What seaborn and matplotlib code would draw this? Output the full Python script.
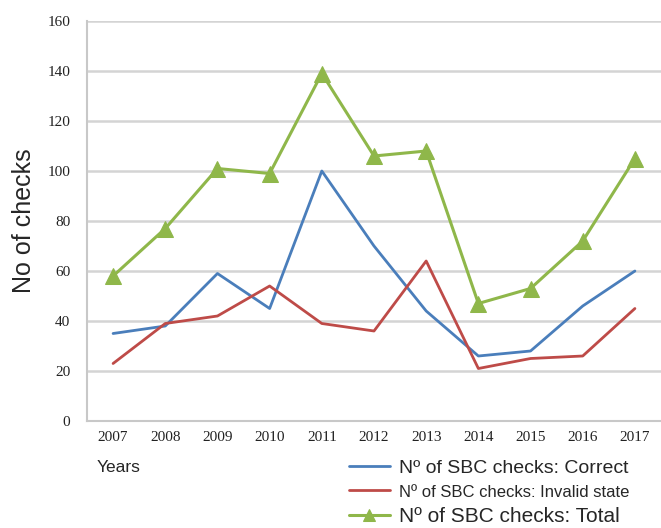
import matplotlib
matplotlib.use("Agg")
import matplotlib.pyplot as plt
import seaborn as sns
import pandas as pd

years = [2007, 2008, 2009, 2010, 2011, 2012, 2013, 2014, 2015, 2016, 2017]
correct = [35, 38, 59, 45, 100, 70, 44, 26, 28, 46, 60]
invalid = [23, 39, 42, 54, 39, 36, 64, 21, 25, 26, 45]
total = [58, 77, 101, 99, 139, 106, 108, 47, 53, 72, 105]
labels = ["Nº of SBC checks: Correct", "Nº of SBC checks: Invalid state", "Nº of SBC checks: Total"]
yticks = [0, 20, 40, 60, 80, 100, 120, 140, 160]

sns.set_style("white")
fig = plt.figure(figsize=(6.61, 5.28), dpi=100)
ax = fig.add_axes([87/661, 1-421/528, (661-87)/661, 400/528])

df = pd.DataFrame({"year": years, "correct": correct, "invalid": invalid, "total": total})
sns.lineplot(data=df, x="year", y="correct", ax=ax, color="#4a7ebb", lw=2.0, label=labels[0])
sns.lineplot(data=df, x="year", y="invalid", ax=ax, color="#be4b48", lw=2.0, label=labels[1])
sns.lineplot(data=df, x="year", y="total", ax=ax, color="#8fb74a", lw=2.2, marker="^",
             markersize=11, markeredgecolor="#8fb74a", label=labels[2])

ax.set_xlim(2006.5, 2017.5)
ax.set_ylim(0, 160)
ax.set_yticks(yticks)
ax.set_xticks(years)
ax.yaxis.grid(True, color="#d4d4d4", lw=1.8)
ax.set_axisbelow(True)
for s in ["top", "right"]:
    ax.spines[s].set_visible(False)
for s in ["left", "bottom"]:
    ax.spines[s].set_color("#c8c8c8")
    ax.spines[s].set_linewidth(1.5)
ax.tick_params(axis="x", length=0, labelsize=11, pad=7, colors="#222222")
ax.tick_params(axis="y", length=0, labelsize=11, pad=12, colors="#222222")
for t in ax.get_xticklabels() + ax.get_yticklabels():
    t.set_family("Liberation Serif")
ax.set_xlabel("")
ax.set_ylabel("No of checks", fontsize=18, family="Liberation Sans")
ax.yaxis.set_label_coords(-0.088, 0.5)

fig.text(97/661, 1-468/528, "Years", fontsize=12.5, family="Liberation Sans", va="center")

leg = ax.legend(loc="upper left", bbox_to_anchor=(349/661, 1-459/528), bbox_transform=fig.transFigure,
                frameon=False, fontsize=14, handlelength=2.1, labelspacing=0.36,
                handletextpad=0.45, borderaxespad=0, borderpad=0)
txts = leg.get_texts()
for t in txts:
    t.set_family("Liberation Sans")
txts[0].set_fontsize(14)
txts[1].set_fontsize(12)
txts[2].set_fontsize(15)
leg.legend_handles[2].set_markersize(8)

fig.savefig("out.png", dpi=100)
